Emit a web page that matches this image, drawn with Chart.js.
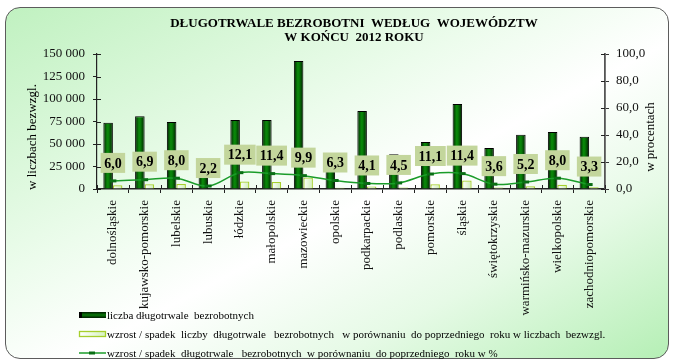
<!DOCTYPE html>
<html>
<head>
<meta charset="utf-8">
<script src="https://cdn.jsdelivr.net/npm/chart.js@4"></script>
<style>
  html, body { margin: 0; padding: 0; background: #ffffff; }
  #wrap { position: relative; width: 674px; height: 363px; overflow: hidden; }
  #frame {
    position: absolute; left: 5px; top: 7px; width: 662px; height: 350px;
    border: 1.5px solid #5c5c5c; border-radius: 15px;
    background: linear-gradient(to bottom right, #c0f1c0 0%, #ecfcec 38%, #ffffff 55%, #e6fae6 75%, #b5efb5 100%);
  }
  canvas { position: absolute; left: 0; top: 0; }
</style>
</head>
<body>
<div id="wrap">
  <div id="frame"></div>
  <canvas id="chart" width="674" height="363"></canvas>
</div>
<script>
// Voivodeships
const regions = [
  'dolnośląskie', 'kujawsko-pomorskie', 'lubelskie', 'lubuskie', 'łódzkie',
  'małopolskie', 'mazowieckie', 'opolskie', 'podkarpackie', 'podlaskie',
  'pomorskie', 'śląskie', 'świętokrzyskie', 'warmińsko-mazurskie',
  'wielkopolskie', 'zachodniopomorskie'
];

// Long-term unemployed at the end of 2012 (persons)
const longTermCount = [
  73600, 80800, 74500, 20500, 76800, 76600, 142300, 22500,
  86800, 38700, 52300, 94500, 45600, 60200, 63300, 58000
];

// Change versus previous year (persons)
const changeAbsolute = [
  4200, 5200, 5500, 450, 8300, 7800, 12800, 1300,
  2900, 1700, 5200, 9500, 1600, 3000, 4700, 1900
];

// Change versus previous year (%)
const changePercent = [
  6.0, 6.9, 8.0, 2.2, 12.1, 11.4, 9.9, 6.3,
  4.1, 4.5, 11.1, 11.4, 3.6, 5.2, 8.0, 3.3
];

// Axis ticks
const countTicks = [0, 25000, 50000, 75000, 100000, 125000, 150000];
const percentTicks = [0, 20, 40, 60, 80, 100];

const titleLines = ['DŁUGOTRWALE BEZROBOTNI  WEDŁUG  WOJEWÓDZTW', 'W KOŃCU  2012 ROKU'];
const leftAxisTitle = 'w liczbach bezwzgl.';
const rightAxisTitle = 'w procentach';
const legendLabels = [
  'liczba długotrwale  bezrobotnych',
  'wzrost / spadek  liczby  długotrwale   bezrobotnych   w porównaniu  do poprzedniego  roku w liczbach  bezwzgl.',
  'wzrost / spadek  długotrwale   bezrobotnych  w porównaniu  do poprzedniego  roku w %'
];

const SERIF = '"Liberation Serif", "DejaVu Serif", serif';

function fmtThousands(v) {
  return String(v).replace(/\B(?=(\d{3})+(?!\d))/g, ' ');
}
function fmtPercent(v) {
  return Number(v).toFixed(1).replace('.', ',');
}

// Cylinder-like shading for the dark bars (left bar of each group)
function darkBarFill(ctx) {
  const chart = ctx.chart;
  const xs = chart.scales.x;
  if (!xs || !chart.chartArea || ctx.dataIndex === undefined) return '#0a7a0a';
  const cx = xs.getPixelForValue(ctx.dataIndex);
  const step = xs.getPixelForValue(1) - xs.getPixelForValue(0);
  const w = step * 0.3;
  const g = chart.ctx.createLinearGradient(cx - w, 0, cx, 0);
  g.addColorStop(0, '#001c00');
  g.addColorStop(0.4, '#0a870a');
  g.addColorStop(0.55, '#088008');
  g.addColorStop(1, '#001c00');
  return g;
}
// Pale shading for the change bars (right bar of each group)
function lightBarFill(ctx) {
  const chart = ctx.chart;
  const xs = chart.scales.x;
  if (!xs || !chart.chartArea || ctx.dataIndex === undefined) return '#e8f8dc';
  const cx = xs.getPixelForValue(ctx.dataIndex);
  const step = xs.getPixelForValue(1) - xs.getPixelForValue(0);
  const w = step * 0.3;
  const g = chart.ctx.createLinearGradient(cx, 0, cx + w, 0);
  g.addColorStop(0, '#ffffff');
  g.addColorStop(1, '#cdeeb4');
  return g;
}

// Short tick marks on the inner side of each axis
const innerTicks = {
  id: 'innerTicks',
  afterDraw(chart) {
    const { ctx, chartArea: a, scales } = chart;
    ctx.save();
    ctx.lineWidth = 1;
    ctx.strokeStyle = '#222';
    ctx.beginPath();
    scales.y.ticks.forEach(t => {
      const py = Math.round(scales.y.getPixelForValue(t.value)) + 0.5;
      ctx.moveTo(a.left, py); ctx.lineTo(a.left + 4, py);
    });
    scales.y1.ticks.forEach(t => {
      const py = Math.round(scales.y1.getPixelForValue(t.value)) + 0.5;
      ctx.moveTo(a.right - 4, py); ctx.lineTo(a.right, py);
    });
    for (let i = 0; i <= regions.length; i++) {
      const px = Math.round(scales.x.getPixelForValue(i - 0.5)) + 0.5;
      ctx.moveTo(px, a.bottom - 4); ctx.lineTo(px, a.bottom);
    }
    ctx.stroke();
    ctx.restore();
  }
};

// Boxed value labels above the percentage line
const percentLabels = {
  id: 'percentLabels',
  afterDatasetsDraw(chart) {
    const { ctx } = chart;
    const meta = chart.getDatasetMeta(2);
    ctx.save();
    ctx.font = 'bold 14px ' + SERIF;
    ctx.textAlign = 'center';
    ctx.textBaseline = 'middle';
    meta.data.forEach((pt, i) => {
      const txt = fmtPercent(changePercent[i]);
      const w = ctx.measureText(txt).width + 7;
      const h = 20;
      const bottom = pt.y - 8;
      ctx.fillStyle = '#c3d69c';
      ctx.fillRect(pt.x - w / 2, bottom - h, w, h);
      ctx.fillStyle = '#000';
      ctx.fillText(txt, pt.x, bottom - h / 2 + 1);
    });
    ctx.restore();
  }
};

// Title, axis titles and legend
const decorations = {
  id: 'decorations',
  afterDraw(chart) {
    const { ctx } = chart;
    ctx.save();
    ctx.fillStyle = '#000';
    ctx.textAlign = 'center';
    ctx.textBaseline = 'alphabetic';
    ctx.font = 'bold 13px ' + SERIF;
    ctx.fillText(titleLines[0], 354, 27);
    ctx.fillText(titleLines[1], 354, 41);

    ctx.font = '13px ' + SERIF;
    ctx.textBaseline = 'middle';
    ctx.save();
    ctx.translate(33, 137); ctx.rotate(-Math.PI / 2);
    ctx.fillText(leftAxisTitle, 0, 0);
    ctx.restore();
    ctx.save();
    ctx.translate(651, 137); ctx.rotate(-Math.PI / 2);
    ctx.fillText(rightAxisTitle, 0, 0);
    ctx.restore();

    // legend
    const lx = 79, tx = 107;
    const rows = [315, 334, 353];
    const g1 = ctx.createLinearGradient(0, rows[0] - 3, 0, rows[0] + 3);
    g1.addColorStop(0, '#001a00'); g1.addColorStop(0.5, '#0a7a0a'); g1.addColorStop(1, '#001a00');
    ctx.fillStyle = g1;
    ctx.fillRect(lx, rows[0] - 3, 27, 6);
    ctx.fillStyle = '#000';
    ctx.fillRect(lx, rows[0] - 3, 3, 6);

    const g2 = ctx.createLinearGradient(lx, 0, lx + 26, 0);
    g2.addColorStop(0, '#ffffff'); g2.addColorStop(1, '#d6f2c0');
    ctx.fillStyle = g2;
    ctx.fillRect(lx + 0.5, rows[1] - 2.5, 26, 5);
    ctx.strokeStyle = '#a6cf2c'; ctx.lineWidth = 1.3;
    ctx.strokeRect(lx + 0.5, rows[1] - 2.5, 26, 5);

    ctx.strokeStyle = '#1b9c2a'; ctx.lineWidth = 1.5;
    ctx.beginPath(); ctx.moveTo(lx, rows[2]); ctx.lineTo(lx + 27, rows[2]); ctx.stroke();
    ctx.strokeStyle = '#0a6e14'; ctx.lineWidth = 3;
    ctx.beginPath(); ctx.moveTo(lx + 10, rows[2]); ctx.lineTo(lx + 16, rows[2]); ctx.stroke();

    ctx.fillStyle = '#000';
    ctx.textAlign = 'left';
    ctx.font = '11px ' + SERIF;
    legendLabels.forEach((t, i) => ctx.fillText(t, tx, rows[i] + 1));
    ctx.restore();
  }
};

new Chart(document.getElementById('chart'), {
  data: {
    labels: regions,
    datasets: [
      {
        type: 'bar',
        label: legendLabels[0],
        data: longTermCount,
        yAxisID: 'y',
        backgroundColor: darkBarFill,
        borderColor: '#000000',
        borderWidth: 1,
        categoryPercentage: 0.6,
        barPercentage: 1.0,
        order: 1
      },
      {
        type: 'bar',
        label: legendLabels[1],
        data: changeAbsolute,
        yAxisID: 'y',
        backgroundColor: lightBarFill,
        borderColor: '#a6cf2c',
        borderWidth: 1.3,
        categoryPercentage: 0.6,
        barPercentage: 1.0,
        order: 2
      },
      {
        type: 'line',
        label: legendLabels[2],
        data: changePercent,
        yAxisID: 'y1',
        borderColor: '#1b9c2a',
        borderWidth: 1.5,
        tension: 0.35,
        pointStyle: 'line',
        pointRadius: 3.5,
        pointBorderWidth: 3,
        pointBorderColor: '#0a6e14',
        pointBackgroundColor: '#0a6e14',
        order: 0
      }
    ]
  },
  options: {
    responsive: false,
    animation: false,
    layout: { padding: { left: 20, right: 0, top: 54, bottom: 0 } },
    plugins: {
      legend: { display: false },
      title: { display: false },
      tooltip: { enabled: false }
    },
    scales: {
      x: {
        type: 'category',
        offset: true,
        grid: { offset: true, drawOnChartArea: false, drawTicks: true, tickLength: 4, color: '#222', lineWidth: 1 },
        border: { color: '#222', width: 1.5 },
        ticks: {
          minRotation: 90, maxRotation: 90, autoSkip: false, padding: 7,
          color: '#111', font: { family: SERIF, size: 13 }
        },
        afterFit(s) { s.height = 174; }
      },
      y: {
        position: 'left',
        min: 0, max: 150000,
        afterBuildTicks(s) { s.ticks = countTicks.map(v => ({ value: v })); },
        grid: { drawOnChartArea: false, tickLength: 4, color: '#222' },
        border: { color: '#222', width: 1.2 },
        ticks: { callback: v => fmtThousands(v), padding: 8, color: '#111', font: { family: SERIF, size: 13 } },
        afterFit(s) { s.width = 77; }
      },
      y1: {
        position: 'right',
        min: 0, max: 100,
        afterBuildTicks(s) { s.ticks = percentTicks.map(v => ({ value: v })); },
        grid: { drawOnChartArea: false, tickLength: 4, color: '#333' },
        border: { color: '#555', width: 1.8 },
        ticks: { callback: v => fmtPercent(v), padding: 7, color: '#111', font: { family: SERIF, size: 13 } },
        afterFit(s) { s.width = 69; }
      }
    }
  },
  plugins: [innerTicks, percentLabels, decorations]
});
</script>
</body>
</html>
